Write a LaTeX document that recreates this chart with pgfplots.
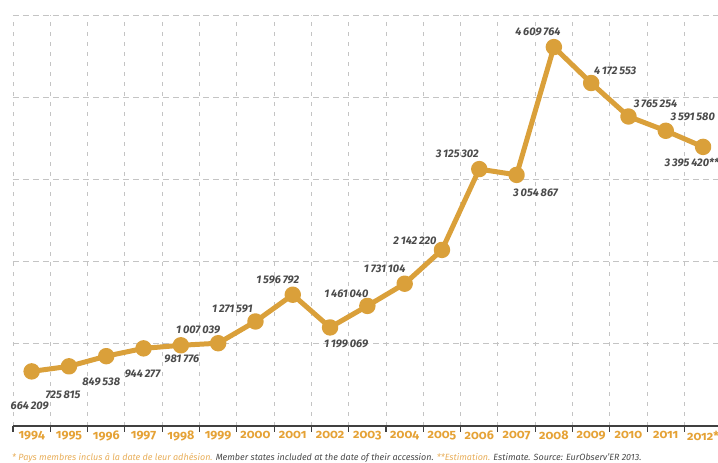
\documentclass[border=0pt]{standalone}
\usepackage{pgfplots}
\pgfplotsset{compat=1.18}
\usepackage{fontspec}
\setmainfont{Fira Sans}
\newfontfamily\yearfont[Numbers=OldStyle]{Fira Sans}
\definecolor{gold}{HTML}{DAA03A}
\definecolor{yearcol}{HTML}{E5A236}
\definecolor{labcol}{HTML}{4A4A4A}
\definecolor{notecol}{HTML}{E8AE5A}
\definecolor{gridcol}{HTML}{C4C4C4}
\begin{document}
\begin{tikzpicture}
\useasboundingbox (0,0) rectangle (718pt,463pt);
\begin{axis}[
  at={(13pt,37pt)}, anchor=south west,
  scale only axis, width=705pt, height=411pt,
  xmin=1993.5, xmax=2012.4, ymin=0, ymax=5e6,
  clip=false,
  axis x line*=bottom, axis y line*=left,
  y axis line style={draw=none},
  x axis line style={draw=black!75, line width=1.4pt},
  xtick={1994,...,2012},
  xticklabels={1994,1995,1996,1997,1998,1999,2000,2001,2002,2003,2004,2005,2006,2007,2008,2009,2010,2011,2012*},
  minor xtick={1993.5,1994.5,...,2011.5},
  ytick={1000000,2000000,3000000,4000000,5000000},
  yticklabels={},
  scaled y ticks=false,
  major tick length=0pt,
  minor tick length=6pt,
  tick align=outside,
  minor tick style={draw=black!75, line width=1.1pt},
  xminorgrids=true, ymajorgrids=true, xmajorgrids=false,
  major grid style={draw=gridcol, dash pattern=on 6pt off 4pt, line width=0.8pt},
  minor grid style={draw=gridcol, dash pattern=on 4pt off 6pt, line width=0.8pt},
  xticklabel style={font=\yearfont\bfseries\fontsize{12.5}{12.5}\selectfont, text=yearcol, inner sep=0pt, yshift=-5pt},
]
\addplot[color=gold, line width=5pt, line join=round, mark=*, mark size=5.7pt,
  mark options={fill=gold, draw=none}] coordinates {
(1994,664209) (1995,725815) (1996,849538) (1997,944277) (1998,981776)
(1999,1007039) (2000,1271591) (2001,1596792) (2002,1199069) (2003,1461040)
(2004,1731104) (2005,2142220) (2006,3125302) (2007,3054867) (2008,4609764)
(2009,4172553) (2010,3765254) (2011,3591580) (2012,3395420)
};
\tikzset{lab/.style={font=\itshape\bfseries\fontsize{11}{12}\selectfont, text=labcol, inner sep=0pt}}
\node[lab] at ([xshift=-2pt,yshift=-34pt]axis cs:1994,664209) {664\,209};
\node[lab] at ([xshift=-6pt,yshift=-28pt]axis cs:1995,725815) {725\,815};
\node[lab] at ([xshift=-5pt,yshift=-26pt]axis cs:1996,849538) {849\,538};
\node[lab] at ([xshift=-1pt,yshift=-25pt]axis cs:1997,944277) {944\,277};
\node[lab] at ([xshift=1pt,yshift=-14pt]axis cs:1998,981776) {981\,776};
\node[lab] at ([xshift=-20pt,yshift=13pt]axis cs:1999,1007039) {1\,007\,039};
\node[lab] at ([xshift=-23pt,yshift=13pt]axis cs:2000,1271591) {1\,271\,591};
\node[lab] at ([xshift=-15pt,yshift=15pt]axis cs:2001,1596792) {1\,596\,792};
\node[lab] at ([xshift=16pt,yshift=-16pt]axis cs:2002,1199069) {1\,199\,069};
\node[lab] at ([xshift=-21pt,yshift=12pt]axis cs:2003,1461040) {1\,461\,040};
\node[lab] at ([xshift=-20pt,yshift=15pt]axis cs:2004,1731104) {1\,731\,104};
\node[lab] at ([xshift=-27pt,yshift=9pt]axis cs:2005,2142220) {2\,142\,220};
\node[lab] at ([xshift=-22pt,yshift=15pt]axis cs:2006,3125302) {3\,125\,302};
\node[lab] at ([xshift=19pt,yshift=-18pt]axis cs:2007,3054867) {3\,054\,867};
\node[lab] at ([xshift=-16pt,yshift=15pt]axis cs:2008,4609764) {4\,609\,764};
\node[lab] at ([xshift=24pt,yshift=12pt]axis cs:2009,4172553) {4\,172\,553};
\node[lab] at ([xshift=27pt,yshift=13pt]axis cs:2010,3765254) {3\,765\,254};
\node[lab] at ([xshift=27pt,yshift=14pt]axis cs:2011,3591580) {3\,591\,580};
\node[lab, anchor=east] at ([xshift=16pt,yshift=-16pt]axis cs:2012,3395420) {3\,395\,420**};
\end{axis}
\node[anchor=west, inner sep=0pt, font=\itshape\fontsize{9}{9}\selectfont] at (12pt,5pt)
  {\textcolor{notecol}{* Pays membres inclus à la date de leur adhésion.} \textcolor{labcol}{Member states included at the date of their accession.} \textcolor{notecol}{**Estimation.} \textcolor{labcol}{Estimate. Source: EurObserv'ER 2013.}};
\end{tikzpicture}
\end{document}
